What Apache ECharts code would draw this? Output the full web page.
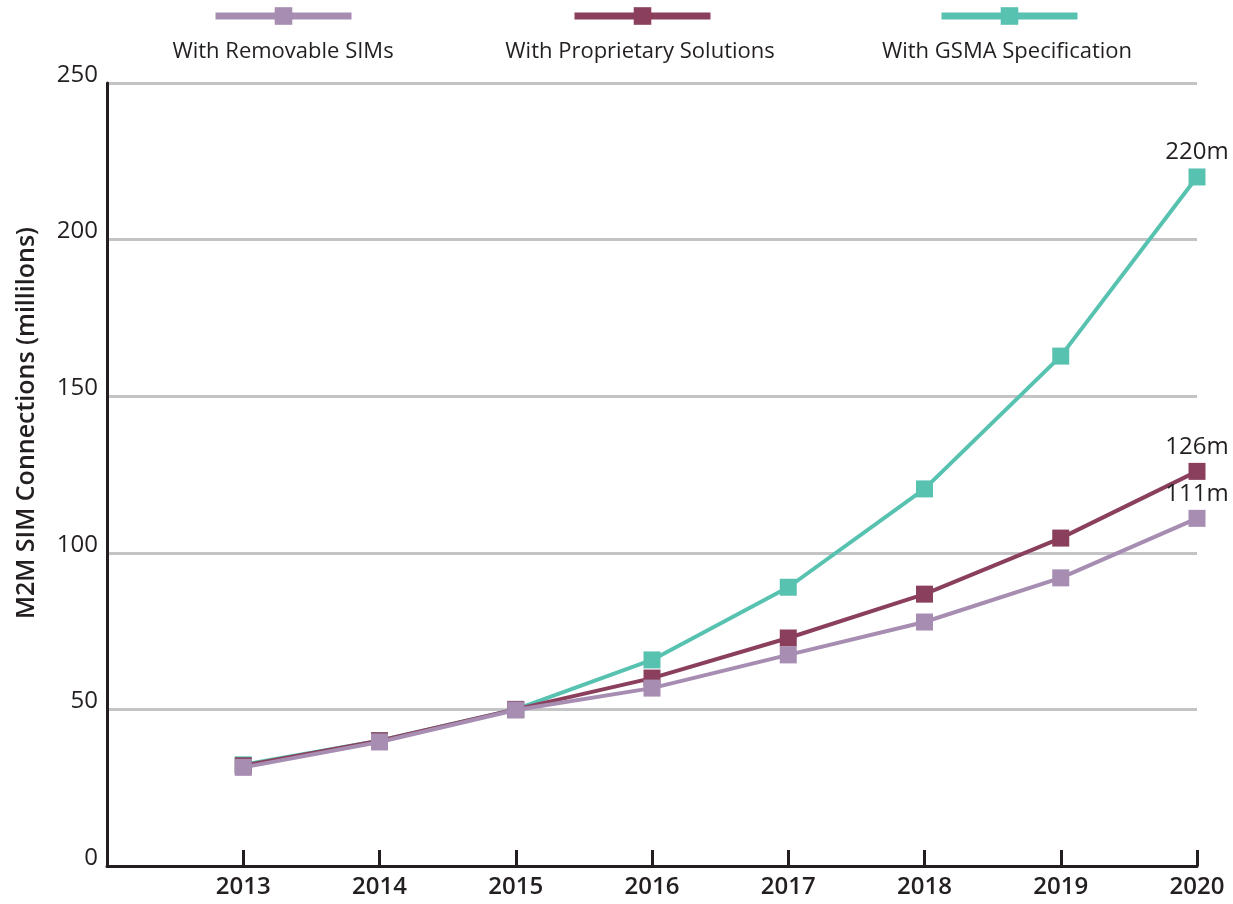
<!DOCTYPE html>
<html>
<head>
<meta charset="utf-8">
<title>M2M SIM Connections</title>
<script src="https://cdn.jsdelivr.net/npm/echarts@6/dist/echarts.min.js"></script>
<style>
  html, body { margin: 0; padding: 0; background: #fff; }
  #chart { width: 1233px; height: 904px; }
</style>
</head>
<body>
<div id="chart"></div>
<script>
// data
const years = [2013, 2014, 2015, 2016, 2017, 2018, 2019, 2020]
const removable = [31.5, 39.6, 49.8, 56.8, 67.4, 77.9, 92, 111]
const proprietary = [32, 40, 50, 60, 72.8, 86.8, 104.7, 126]
const gsma = [32.3, 40, 50, 65.8, 89, 120.4, 162.8, 220]
const yTicks = [0, 50, 100, 150, 200, 250]

const names = ['With Removable SIMs', 'With Proprietary Solutions', 'With GSMA Specification']
const colors = ['#a68db1', '#8a3f5c', '#58c2b1']
const font = '"Open Sans", "Noto Sans", sans-serif'

const chart = echarts.init(document.getElementById('chart'))

function makeSeries (name, values, color, z) {
  return {
    name: name,
    type: 'line',
    z: z,
    data: values.map((v, i) => {
      const item = { value: [years[i], v] }
      if (i === values.length - 1) {
        item.label = {
          show: true,
          position: 'top',
          distance: 4,
          formatter: (p) => Math.round(p.value[1]) + 'm',
          fontFamily: font,
          fontSize: 24,
          color: '#231f20'
        }
      }
      return item
    }),
    symbol: 'rect',
    symbolSize: 17,
    showAllSymbol: true,
    lineStyle: { color: color, width: 4 },
    itemStyle: { color: color },
    emphasis: { disabled: true },
    animation: false
  }
}

// legend items sit in a row, text goes underneath via graphic
const legendLeft = [212, 571, 938]
const legends = names.map((n, i) => ({
  data: [n],
  left: legendLeft[i],
  top: 5,
  padding: 0,
  itemWidth: 136,
  itemHeight: 22,
  formatter: () => '',
  lineStyle: { width: 7 },
  selectedMode: false
}))

const legendTextX = [283, 640, 1007]

chart.setOption({
  backgroundColor: '#fff',
  animation: false,
  legend: legends,
  grid: { left: 107, right: 36, top: 83, bottom: 38, containLabel: false },
  xAxis: {
    type: 'value',
    min: 2012,
    max: 2020,
    interval: 1,
    axisLine: { show: true, lineStyle: { color: '#231f20', width: 3 } },
    axisTick: {
      show: true,
      inside: true,
      length: 16,
      lineStyle: { color: '#231f20', width: 3 },
      customValues: years
    },
    axisLabel: {
      customValues: years,
      margin: 9,
      fontFamily: font,
      fontSize: 24,
      fontWeight: 600,
      color: '#231f20',
      formatter: (v) => String(v)
    },
    splitLine: { show: false }
  },
  yAxis: {
    type: 'value',
    min: 0,
    max: 250,
    interval: 50,
    axisLine: { show: true, lineStyle: { color: '#231f20', width: 3 } },
    axisTick: { show: false },
    axisLabel: {
      customValues: yTicks,
      margin: 9,
      fontFamily: font,
      fontSize: 24,
      color: '#231f20',
      verticalAlign: 'bottom',
      lineHeight: 16
    },
    splitLine: { show: true, lineStyle: { color: '#c4c4c6', width: 3 } }
  },
  graphic: [
    ...names.map((n, i) => ({
      type: 'text',
      x: legendTextX[i],
      y: 52,
      style: {
        text: n,
        fontFamily: font,
        fontSize: 22,
        fill: '#231f20',
        align: 'center',
        verticalAlign: 'middle'
      }
    })),
    {
      type: 'text',
      x: 27,
      y: 423,
      rotation: Math.PI / 2,
      style: {
        text: 'M2M SIM Connections (millilons)',
        fontFamily: font,
        fontSize: 25,
        fontWeight: 600,
        fill: '#231f20',
        align: 'center',
        verticalAlign: 'middle'
      }
    }
  ],
  series: [
    makeSeries(names[2], gsma, colors[2], 2),
    makeSeries(names[1], proprietary, colors[1], 3),
    makeSeries(names[0], removable, colors[0], 4)
  ]
})
</script>
</body>
</html>
